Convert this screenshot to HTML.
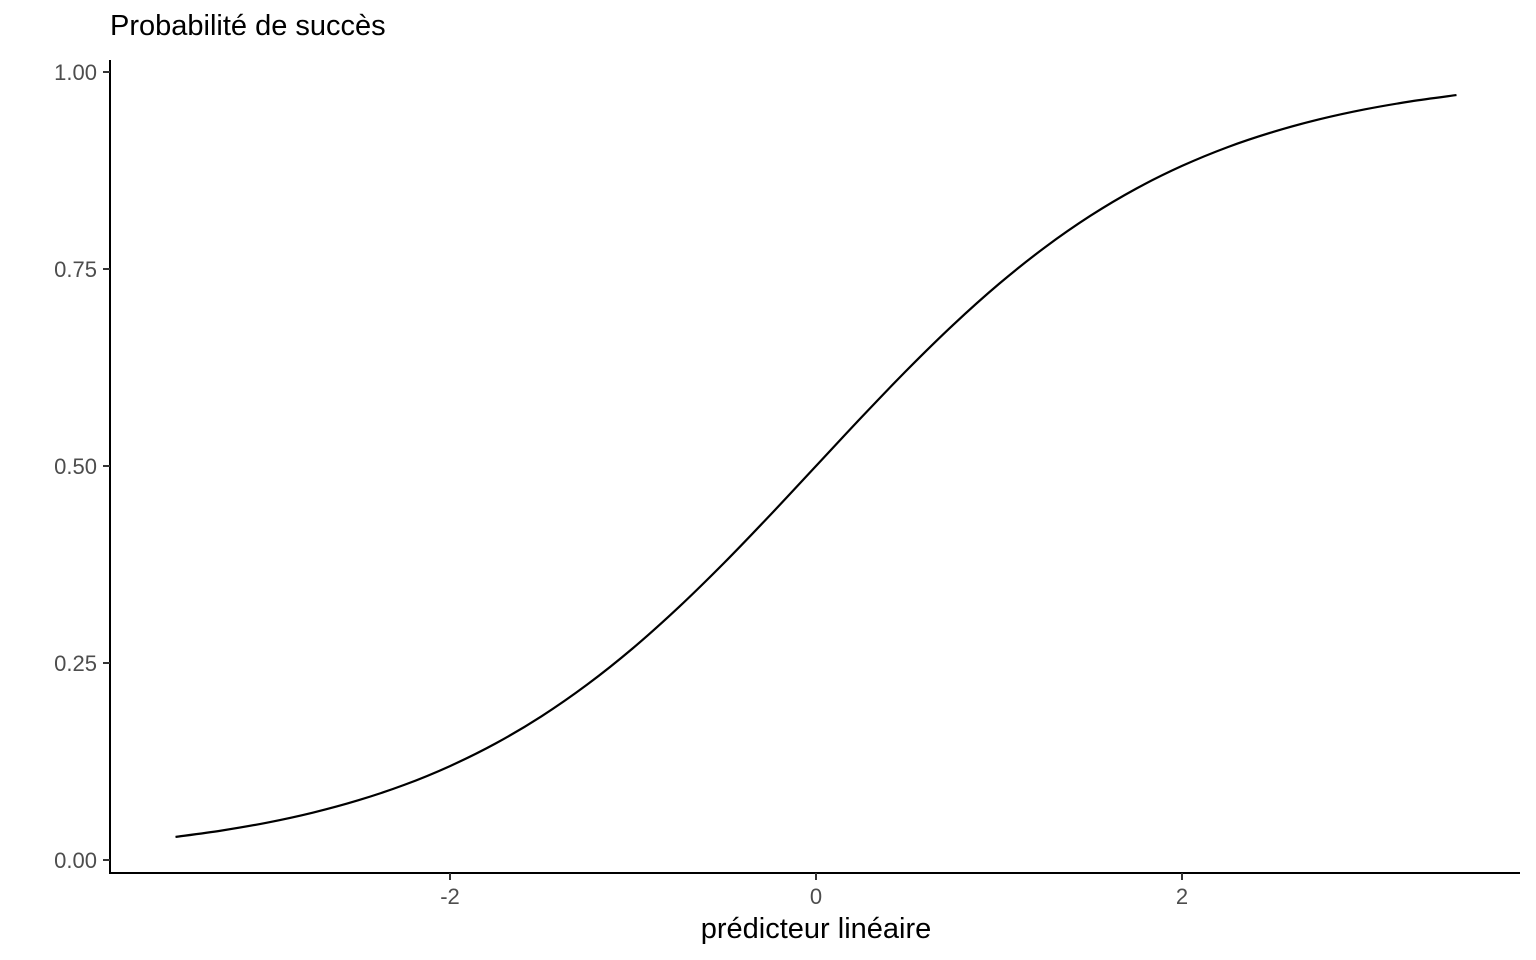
<!DOCTYPE html>
<html><head><meta charset="utf-8"><style>
html,body{margin:0;padding:0;background:#fff}
svg{display:block;font-family:"Liberation Sans",sans-serif}
</style></head><body>
<svg id="chart" width="1536" height="960">
<text x="110" y="35" font-size="29" fill="#000">Probabilité de succès</text>
<text x="816" y="938" font-size="29" fill="#000" text-anchor="middle">prédicteur linéaire</text>
<g id="axes"></g>
<path id="curve" fill="none" stroke="#000" stroke-width="2.2"/>
</svg>
<script>
const xValues = [-3.5,-3.25,-3,-2.75,-2.5,-2.25,-2,-1.75,-1.5,-1.25,-1,-0.75,-0.5,-0.25,0,0.25,0.5,0.75,1,1.25,1.5,1.75,2,2.25,2.5,2.75,3,3.25,3.5];
const yValues = [0.0293,0.0373,0.0474,0.0601,0.0759,0.0953,0.1192,0.148,0.1824,0.2227,0.2689,0.3208,0.3775,0.4378,0.5,0.5622,0.6225,0.6792,0.7311,0.7773,0.8176,0.852,0.8808,0.9047,0.9241,0.9399,0.9526,0.9627,0.9707];
const xTicks = [-2,0,2];
const xTickLabels = ["-2","0","2"];
const yTicks = [0,0.25,0.5,0.75,1];
const yTickLabels = ["0.00","0.25","0.50","0.75","1.00"];

const sx = v => 816 + v*183;
const sy = v => 860 - v*788;
const NS = "http://www.w3.org/2000/svg";
const axes = document.getElementById('axes');
function mk(tag, attrs){const e=document.createElementNS(NS,tag);for(const k in attrs)e.setAttribute(k,attrs[k]);axes.appendChild(e);return e;}

const ya = mk('line',{x1:110,y1:60,x2:110,y2:874,stroke:'#000','stroke-width':2});


const xa = mk('line',{x1:109,y1:873,x2:1520,y2:873,stroke:'#000','stroke-width':2});



yTicks.forEach((t,i)=>{
  const tk = mk('line',{x1:103,y1:sy(t),x2:110,y2:sy(t),stroke:'#333','stroke-width':2});
  
  
  const tx = mk('text',{x:97,y:sy(t)+8,'font-size':22,fill:'#4d4d4d','text-anchor':'end'});
  tx.textContent = yTickLabels[i];
  
  
});
xTicks.forEach((t,i)=>{
  const tk = mk('line',{x1:sx(t),y1:873,x2:sx(t),y2:880,stroke:'#333','stroke-width':2});
  
  
  const tx = mk('text',{x:sx(t),y:904,'font-size':22,fill:'#4d4d4d','text-anchor':'middle'});
  tx.textContent = xTickLabels[i];
  
  
});

const pts = xValues.map((x,i)=>[sx(x),sy(yValues[i])]);
let d = `M${pts[0][0]},${pts[0][1]}`;
for(let i=0;i<pts.length-1;i++){
  const p0=pts[Math.max(0,i-1)],p1=pts[i],p2=pts[i+1],p3=pts[Math.min(pts.length-1,i+2)];
  const c1=[p1[0]+(p2[0]-p0[0])/6,p1[1]+(p2[1]-p0[1])/6];
  const c2=[p2[0]-(p3[0]-p1[0])/6,p2[1]-(p3[1]-p1[1])/6];
  d+=` C${c1[0]},${c1[1]} ${c2[0]},${c2[1]} ${p2[0]},${p2[1]}`;
}
document.getElementById('curve').setAttribute('d',d);
</script>
</body></html>
